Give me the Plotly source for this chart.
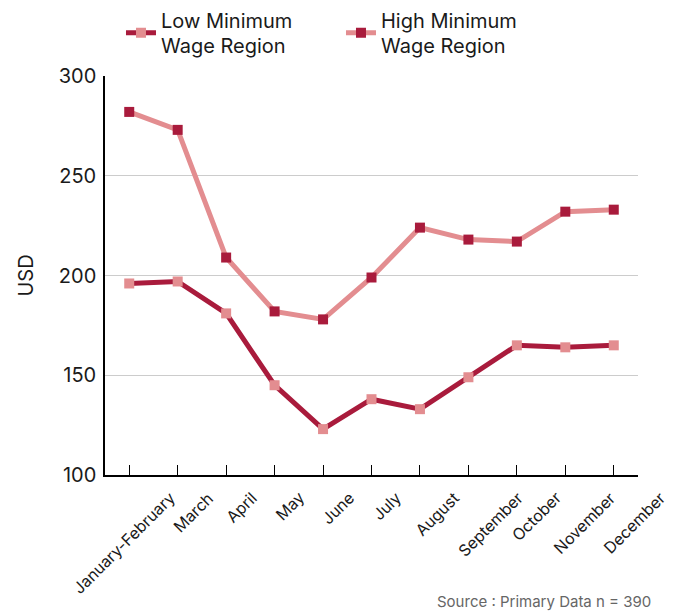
import plotly.graph_objects as go

months = ["January-February", "March", "April", "May", "June", "July",
          "August", "September", "October", "November", "December"]
low_wage = [196, 197, 181, 145, 123, 138, 133, 149, 165, 164, 165]
high_wage = [282, 273, 209, 182, 178, 199, 224, 218, 217, 232, 233]
y_ticks = [100, 150, 200, 250, 300]

# horizontal offset (category units) of each rotated label's right end from its tick
label_shift = [1.08, 0.88, 0.78, 0.75, 0.78, 0.75, 0.94, 1.27, 1.06, 1.17, 1.2]

DARK = "#A91B3C"
LIGHT = "#E38D90"
FONT = "Inter, Roboto, sans-serif"

idx = list(range(len(months)))
n = len(months)

fig = go.Figure()
fig.add_trace(go.Scatter(
    x=idx, y=low_wage, mode="lines+markers",
    name="Low Minimum<br>Wage Region",
    line=dict(color=DARK, width=5),
    marker=dict(symbol="square", size=10, color=LIGHT),
))
fig.add_trace(go.Scatter(
    x=idx, y=high_wage, mode="lines+markers",
    name="High Minimum<br>Wage Region",
    line=dict(color=LIGHT, width=5),
    marker=dict(symbol="square", size=10, color=DARK),
))

# x range is [-0.5, n-0.5]; label position expressed in paper fraction of that range
label_annots = [
    dict(text=m, xref="paper", yref="paper", x=(i + 0.5 + s) / n, y=-0.025,
         xanchor="right", yanchor="top", textangle=-45, showarrow=False,
         font=dict(size=16, family=FONT, color="#1a1a1a"))
    for i, m, s in zip(idx, months, label_shift)
]

fig.update_layout(
    width=672, height=604,
    margin=dict(l=97, r=42, t=68, b=137, autoexpand=False),
    paper_bgcolor="white", plot_bgcolor="white",
    font=dict(family=FONT, color="#1a1a1a", size=20),
    showlegend=True,
    legend=dict(orientation="h", x=0.03, xanchor="left", y=1.19, yanchor="top",
                font=dict(size=20, family=FONT), entrywidth=175, entrywidthmode="pixels",
                itemwidth=30, traceorder="normal"),
    xaxis=dict(range=[-0.5, n - 0.5], tickvals=idx, showticklabels=False,
               ticks="inside", ticklen=10, tickcolor="black", tickwidth=1,
               showline=True, linecolor="black", linewidth=1.5,
               showgrid=False, zeroline=False, automargin=False),
    yaxis=dict(range=[100, 300], tickvals=y_ticks, ticks="",
               showline=True, linecolor="black", linewidth=1.5,
               showgrid=True, gridcolor="#cccccc", gridwidth=1, zeroline=False,
               tickfont=dict(size=20, family=FONT, color="#1a1a1a"),
               ticklabelstandoff=3, automargin=False,
               title=dict(text="USD", font=dict(size=20, family=FONT), standoff=20)),
    annotations=label_annots + [
        dict(text="Source : Primary Data n = 390", xref="paper", yref="paper",
             x=1.028, y=-0.345, xanchor="right", yanchor="bottom",
             showarrow=False, font=dict(size=15, color="#666666", family=FONT))],
)

fig.write_html("out.html")
